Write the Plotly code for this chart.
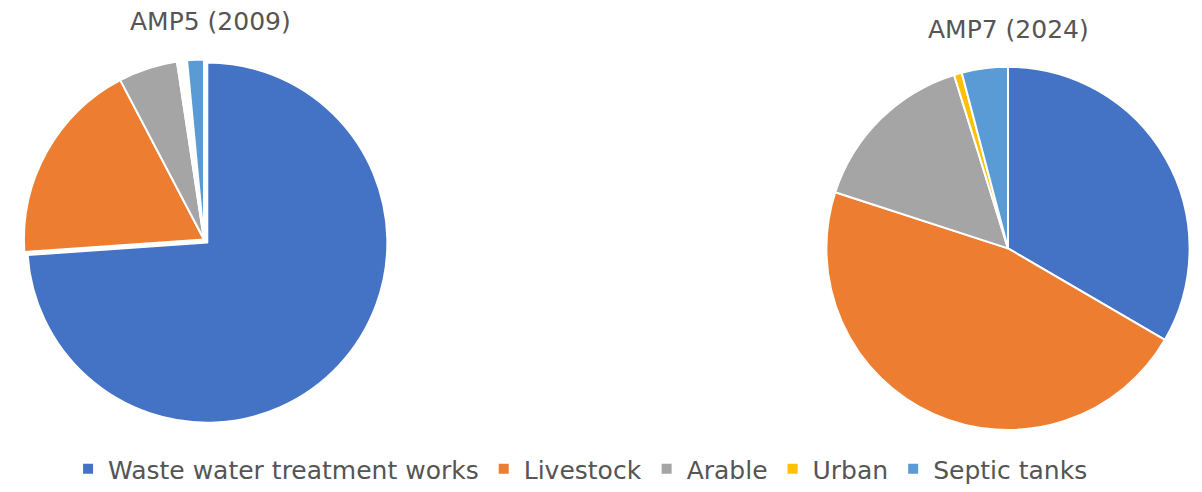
import plotly.graph_objects as go

# Sources of phosphorus load, share of total (%)
sources = ["Waste water treatment works", "Livestock", "Arable", "Urban", "Septic tanks"]
amp5_2009 = [73.9, 18.4, 5.3, 0.9, 1.5]
amp7_2024 = [33.4, 46.6, 15.2, 0.7, 4.1]
titles = ["AMP5 (2009)", "AMP7 (2024)"]

colors = ["#4472C4", "#ED7D31", "#A5A5A5", "#FFC000", "#5B9BD5"]
# the 2009 urban share is shown as an unfilled gap
colors_2009 = ["#4472C4", "#ED7D31", "#A5A5A5", "#FFFFFF", "#5B9BD5"]
W, H = 1202, 492
TEXT = "#555555"
FONT = "DejaVu Sans"


def px_domain(x0, x1, y0, y1):
    return dict(x=[x0 / W, x1 / W], y=[1 - y1 / H, 1 - y0 / H])


fig = go.Figure()
# 2024 pie first so the legend swatches take its colours
fig.add_trace(go.Pie(
    labels=sources, values=amp7_2024, sort=False, direction="clockwise",
    rotation=0, textinfo="none", hoverinfo="label+percent",
    marker=dict(colors=colors, line=dict(color="white", width=2)),
    domain=px_domain(823, 1193, 68, 438),
))
fig.add_trace(go.Pie(
    labels=sources, values=amp5_2009, sort=False, direction="clockwise",
    rotation=0, textinfo="none", hoverinfo="label+percent",
    pull=[0.025, 0, 0, 0, 0],
    marker=dict(colors=colors_2009, line=dict(color="white", width=2)),
    domain=px_domain(16, 392, 56, 432),
))

for text, cx, cy in [(titles[0], 210, 22), (titles[1], 1008, 30)]:
    fig.add_annotation(text=text, x=cx / W, y=1 - cy / H, xref="paper", yref="paper",
                       xanchor="center", yanchor="middle", showarrow=False,
                       font=dict(family=FONT, size=25, color=TEXT))

fig.update_layout(
    width=W, height=H,
    margin=dict(l=0, r=0, t=0, b=0),
    paper_bgcolor="white", plot_bgcolor="white",
    font=dict(family=FONT, color=TEXT),
    showlegend=True,
    legend=dict(orientation="h", x=0.483, xanchor="center", y=1 - 478 / H, yanchor="middle",
                font=dict(family=FONT, size=25, color=TEXT), itemwidth=30,
                traceorder="normal"),
)

fig.write_html("out.html")
